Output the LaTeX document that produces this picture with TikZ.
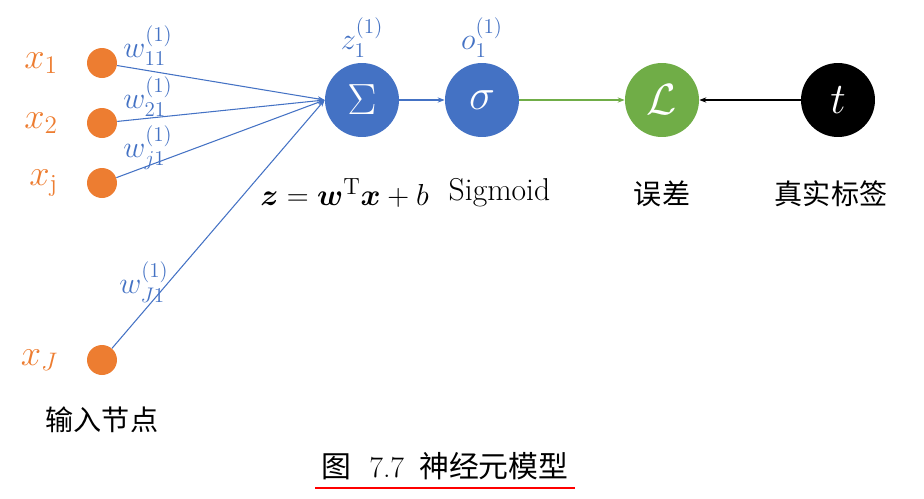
\documentclass[tikz,border=0pt]{standalone}
\usepackage{amsmath}
\usepackage{amssymb}
\usepackage{bm}
\usepackage{fontspec}
\newfontfamily\cjk{Noto Sans CJK SC}
\usetikzlibrary{positioning,arrows.meta}
\definecolor{inorange}{RGB}{237,125,49}
\definecolor{nnblue}{RGB}{68,114,196}
\definecolor{lossgreen}{RGB}{112,173,71}

\begin{document}
\begin{tikzpicture}[x=0.02cm,y=-0.02cm,
  innode/.style={circle,fill=inorange,minimum size=0.6cm,inner sep=0pt},
  inlabel/.style={text=inorange,font=\fontsize{20}{24}\selectfont},
  wlabel/.style={text=nnblue,inner sep=0pt,font=\fontsize{18}{21}\selectfont},
  bignode/.style={circle,minimum size=1.48cm,inner sep=0pt,text=white,font=\fontsize{26}{30}\selectfont},
  caplabel/.style={font=\fontsize{16}{19}\selectfont},
  wire/.style={nnblue,line width=0.6pt,-{Stealth[length=4pt,width=3pt]}}]
\useasboundingbox (0,0) rectangle (924,498);

% input layer
\node [innode] (x1) at (102,63) {};
\node [innode] (x2) at (102,123) {};
\node [innode] (xj) at (102,183) {};
\node [innode] (xJ) at (102,360) {};
\node [inlabel,left=0.45cm of x1] (lx1) {$x_1$};
\node [inlabel,left=0.45cm of x2] (lx2) {$x_2$};
\node [inlabel,left=0.45cm of xj] (lxj) {$x_{\mathrm{j}}$};
\node [inlabel,left=0.45cm of xJ] (lxJ) {$x_J$};
\node [caplabel,below=0.5cm of xJ] (inp) {\cjk 输入节点};

% neuron
\node [bignode,fill=nnblue] (sum) at (362,100) {$\Sigma$};
\node [bignode,fill=nnblue] (sig) at (482,100) {$\sigma$};
\node [bignode,fill=lossgreen] (loss) at (662,100) {$\mathcal{L}$};
\node [bignode,fill=black] (t) at (838,100) {$t$};

\node [wlabel,above=0.1cm of sum] (z) {$z_1^{(1)}$};
\node [wlabel,above=0.1cm of sig] (o) {$o_1^{(1)}$};
\node [font=\fontsize{19}{23}\selectfont,below=0.7cm of sum,xshift=-0.35cm] (f) {$\bm{z}=\bm{w}^{\mathrm{T}}\bm{x}+b$};
\node [caplabel,font=\fontsize{18}{21}\selectfont,below=0.7cm of sig,xshift=0.35cm] (s) {Sigmoid};
\node [caplabel,below=0.75cm of loss] (e) {\cjk 误差};
\node [caplabel,below=0.75cm of t,xshift=-0.14cm] (lab) {\cjk 真实标签};

% weights
\draw [wire] (x1) -- (sum.west);
\draw [wire] (x2) -- (sum.west);
\draw [wire] (xj) -- (sum.west);
\draw [wire] (xJ) -- (sum.west);
\node [wlabel] (w11) at (148,46) {$w_{11}^{(1)}$};
\node [wlabel] (w21) at (148,97) {$w_{21}^{(1)}$};
\node [wlabel] (wj1) at (148,148) {$w_{j1}^{(1)}$};
\node [wlabel] (wJ1) at (144,282) {$w_{J1}^{(1)}$};

\draw [wire] (sum) -- (sig);
\draw [wire,lossgreen] (sig) -- (loss);
\draw [wire,black] (t) -- (loss);

% caption
\node [font=\fontsize{17}{20}\selectfont] (cap) at (445,466) {\cjk 图\hspace{0.6em}\rmfamily 7.7\hspace{0.5em}\cjk 神经元模型};
\draw [red,line width=1.2pt] ([yshift=-1pt]cap.south west) -- ([yshift=-1pt]cap.south east);
\end{tikzpicture}
\end{document}
